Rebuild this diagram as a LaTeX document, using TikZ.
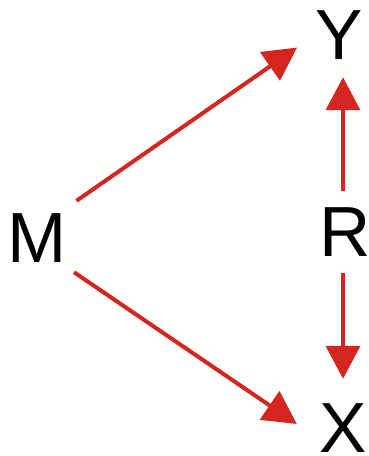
\documentclass[tikz,border=0pt]{standalone}
\usepackage{fontspec}
\setmainfont{Liberation Sans}
\usepackage{xcolor}
\usepackage{tikz}
\usetikzlibrary{arrows.meta}
\definecolor{figRed}{HTML}{D5251F}

\begin{document}
\begin{tikzpicture}[
  x=1pt, y=-1pt,
  >={Triangle[length=33pt,width=34pt]},
  every node/.style={font=\fontsize{71}{71}\selectfont, inner sep=0pt},
  link/.style={->, line width=4pt, figRed},
]
\useasboundingbox (0, 0) rectangle (369, 456);

% Letters
\node (M) at (37, 238) {M};
\node (Y) at (339, 35) {Y};
\node (R) at (345.6, 232) {R};
\node (X) at (343, 428) {X};

% Arrows from M
\draw[link, shorten <=22pt, shorten >=22pt] (M.49) -- (Y.west);
\draw[link, shorten <=17pt, shorten >=27pt] (M.-47) -- (X.205);

% Arrows from R
\draw[link, shorten <=16.6pt, shorten >=17.6pt] ([xshift=-2.6pt]R.north) -- ([xshift=4pt]Y.south);
\draw[link, shorten <=16.6pt, shorten >=24.6pt] ([xshift=-2.6pt]R.south) -- (X.north);
\end{tikzpicture}
\end{document}
